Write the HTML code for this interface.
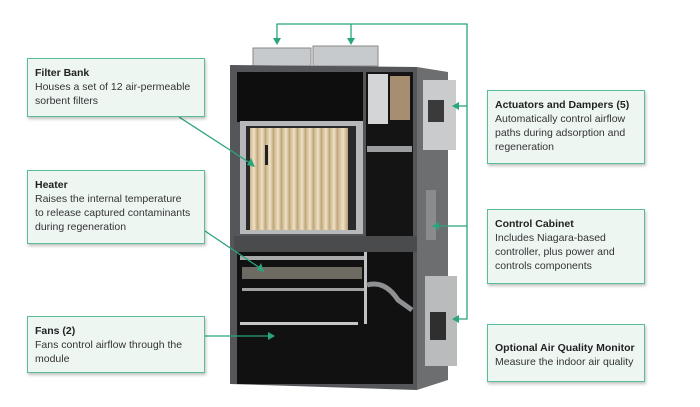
<!DOCTYPE html>
<html><head><meta charset="utf-8"><style>
body{margin:0;background:#fff;width:700px;height:407px;overflow:hidden;position:relative;font-family:"Liberation Sans",sans-serif}
.box{position:absolute;background:#eef6f2;border:1.5px solid #5bbd98;box-shadow:1px 2px 3px rgba(0,0,0,.25);box-sizing:border-box;padding:7px 7px;font-size:10.5px;line-height:14px;color:#333}
.box b{color:#222}
.a{position:absolute}
</style></head><body>
<svg class="a" style="left:0;top:0" width="700" height="407">
<defs>
<linearGradient id="tube" x1="0" x2="1"><stop offset="0" stop-color="#c9b38b"/><stop offset=".5" stop-color="#f0e2c4"/><stop offset="1" stop-color="#b89e75"/></linearGradient>
</defs>
<polygon points="417,67 448,72 448,380 417,390" fill="#6d6e70"/>
<rect x="423" y="80" width="33" height="70" fill="#c9cbcd"/>
<rect x="428" y="100" width="16" height="22" fill="#3a3a3a"/>
<rect x="425" y="276" width="32" height="90" fill="#b9bbbd"/>
<rect x="430" y="312" width="16" height="28" fill="#2f2f2f"/>
<rect x="426" y="190" width="10" height="50" fill="#8a8b8d"/>
<rect x="253" y="48" width="58" height="18" fill="#c7cacc" stroke="#888" stroke-width="1"/>
<rect x="313" y="46" width="65" height="20" fill="#c7cacc" stroke="#888" stroke-width="1"/>
<polygon points="230,65 417,67 417,390 230,384" fill="#55565a"/>
<rect x="237" y="72" width="126" height="50" fill="#0e0e0f"/>
<rect x="366" y="72" width="47" height="166" fill="#141415"/>
<rect x="368" y="74" width="20" height="50" fill="#d3d5d6"/>
<rect x="390" y="76" width="20" height="44" fill="#a58f70"/>
<rect x="367" y="146" width="45" height="6" fill="#9b9d9f"/>
<rect x="240" y="121" width="123" height="113" fill="#b6b8ba"/>
<rect x="246" y="126" width="110" height="104" fill="#2a2a2a"/>
<g fill="url(#tube)">
<rect x="250" y="128" width="8" height="102"/><rect x="258" y="128" width="8" height="102"/><rect x="266" y="128" width="8" height="102"/><rect x="274" y="128" width="8" height="102"/><rect x="282" y="128" width="8" height="102"/><rect x="290" y="128" width="8" height="102"/><rect x="298" y="128" width="8" height="102"/><rect x="306" y="128" width="8" height="102"/><rect x="314" y="128" width="8" height="102"/><rect x="322" y="128" width="8" height="102"/><rect x="330" y="128" width="8" height="102"/><rect x="338" y="128" width="10" height="102"/>
</g>
<rect x="265" y="145" width="3" height="20" fill="#222"/>
<rect x="234" y="236" width="183" height="16" fill="#4a4b4d"/>
<rect x="237" y="252" width="176" height="132" fill="#111112"/>
<rect x="240" y="256" width="125" height="4" fill="#a7a9ab"/>
<rect x="242" y="267" width="120" height="12" fill="#6d6a62"/>
<rect x="242" y="288" width="125" height="3" fill="#9fa1a3"/>
<rect x="240" y="322" width="118" height="3" fill="#c5c7c9"/>
<rect x="364" y="252" width="3" height="72" fill="#bfc1c3"/>
<path d="M367 285 Q385 280 398 300 L412 310" stroke="#8e9092" stroke-width="5" fill="none"/>
<g stroke="#2aa57c" stroke-width="1.3" fill="none">
<polyline points="277,40 277,24 467,24 467,319 458,319"/>
<line x1="351" y1="24" x2="351" y2="40"/>
<line x1="467" y1="106" x2="458" y2="106"/>
<line x1="467" y1="226" x2="438" y2="226"/>
<line x1="179" y1="117" x2="250" y2="163"/>
<line x1="205" y1="231" x2="260" y2="268"/>
<line x1="205" y1="336" x2="268" y2="336"/>
</g>
<g fill="#2aa57c">
<polygon points="273,38 281,38 277,45"/>
<polygon points="347,38 355,38 351,45"/>
<polygon points="459,102 459,110 452,106"/>
<polygon points="439,222 439,230 432,226"/>
<polygon points="459,315 459,323 452,319"/>
<polygon points="247,165 251,158 255,167"/>
<polygon points="257,270 261,263 264,272"/>
<polygon points="268,332 268,340 275,336"/>
</g>
</svg>
<div class="box" style="left:27px;top:58px;width:178px;height:59px"><b>Filter Bank</b><br>Houses a set of 12 air-permeable sorbent filters</div>
<div class="box" style="left:27px;top:170px;width:178px;height:74px;padding-right:12px"><b>Heater</b><br>Raises the internal temperature to release captured contaminants during regeneration</div>
<div class="box" style="left:27px;top:316px;width:178px;height:57px"><b>Fans (2)</b><br>Fans control airflow through the module</div>
<div class="box" style="left:487px;top:90px;width:158px;height:74px"><b>Actuators and Dampers (5)</b><br>Automatically control airflow paths during adsorption and regeneration</div>
<div class="box" style="left:487px;top:209px;width:158px;height:75px"><b>Control Cabinet</b><br>Includes Niagara-based controller, plus power and controls components</div>
<div class="box" style="left:487px;top:324px;width:158px;height:58px;padding-top:16px"><b>Optional Air Quality Monitor</b><br>Measure the indoor air quality</div>
</body></html>
